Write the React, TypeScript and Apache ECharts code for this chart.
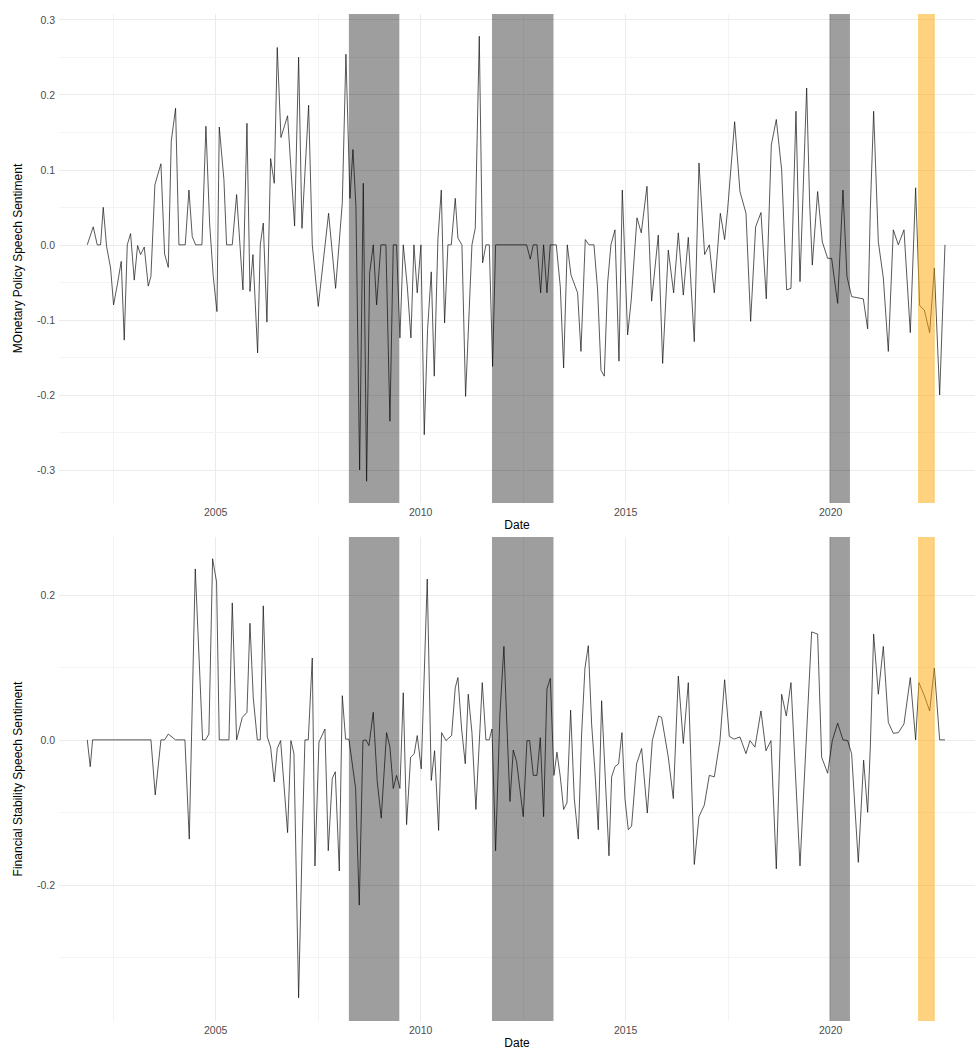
import React, { useEffect, useRef } from "react";
import * as echarts from "echarts";

// Monetary policy speech sentiment (decimal year, value)
const mpDates = [
  2001.869, 2002.015, 2002.113, 2002.194, 2002.259, 2002.34, 2002.438, 2002.511, 2002.609, 2002.698,
  2002.771, 2002.845, 2002.926, 2003.015, 2003.097, 2003.17, 2003.259, 2003.357, 2003.422, 2003.519,
  2003.666, 2003.755, 2003.845, 2003.918, 2004.023, 2004.105, 2004.259, 2004.349, 2004.43, 2004.511,
  2004.666, 2004.763, 2004.853, 2004.942, 2005.032, 2005.089, 2005.202, 2005.267, 2005.406, 2005.512,
  2005.666, 2005.764, 2005.837, 2005.91, 2006.024, 2006.089, 2006.162, 2006.251, 2006.341, 2006.43,
  2006.503, 2006.593, 2006.755, 2006.926, 2007.024, 2007.105, 2007.268, 2007.357, 2007.503, 2007.755,
  2007.926, 2008.089, 2008.178, 2008.276, 2008.349, 2008.422, 2008.512, 2008.601, 2008.682, 2008.755,
  2008.845, 2008.926, 2009.031, 2009.153, 2009.251, 2009.332, 2009.413, 2009.495, 2009.576, 2009.674,
  2009.763, 2009.836, 2009.917, 2010.007, 2010.088, 2010.169, 2010.259, 2010.332, 2010.421, 2010.503,
  2010.584, 2010.665, 2010.747, 2010.844, 2010.909, 2011.007, 2011.096, 2011.251, 2011.332, 2011.43,
  2011.511, 2011.592, 2011.674, 2011.755, 2011.828, 2012.585, 2012.674, 2012.747, 2012.837, 2012.926,
  2012.999, 2013.08, 2013.162, 2013.308, 2013.406, 2013.487, 2013.576, 2013.666, 2013.828, 2013.91,
  2014.015, 2014.105, 2014.227, 2014.316, 2014.398, 2014.479, 2014.56, 2014.641, 2014.739, 2014.837,
  2014.918, 2015.048, 2015.137, 2015.276, 2015.381, 2015.52, 2015.633, 2015.796, 2015.902, 2016.04,
  2016.17, 2016.284, 2016.406, 2016.528, 2016.674, 2016.788, 2016.926, 2017.04, 2017.162, 2017.309,
  2017.414, 2017.487, 2017.658, 2017.788, 2017.935, 2018.048, 2018.17, 2018.3, 2018.43, 2018.552,
  2018.674, 2018.804, 2018.926, 2019.032, 2019.154, 2019.252, 2019.414, 2019.487, 2019.552, 2019.682,
  2019.796, 2019.926, 2020.023, 2020.17, 2020.3, 2020.397, 2020.511, 2020.796, 2020.902, 2020.967,
  2021.048, 2021.162, 2021.284, 2021.406, 2021.528, 2021.65, 2021.788, 2021.942, 2022.072, 2022.17,
  2022.284, 2022.414, 2022.528, 2022.658, 2022.788,
];
const mpValues = [
  0, 0.024, 0, 0, 0.05, -0.002, -0.031, -0.08, -0.051, -0.022,
  -0.127, 0, 0.015, -0.047, -0.001, -0.013, -0.003, -0.055, -0.042, 0.08,
  0.108, -0.012, -0.03, 0.138, 0.182, 0, 0, 0.073, 0.011, 0,
  0, 0.158, 0.029, -0.042, -0.089, 0.157, 0.087, 0, 0, 0.067,
  -0.06, 0.162, -0.062, -0.013, -0.144, 0, 0.029, -0.103, 0.115, 0.082,
  0.263, 0.143, 0.172, 0.025, 0.25, 0.022, 0.186, 0, -0.082, 0.042,
  -0.058, 0.056, 0.254, 0.062, 0.127, 0.051, -0.3, 0.082, -0.315, -0.038,
  0, -0.08, 0, 0, -0.235, 0, 0, -0.124, 0, -0.055,
  -0.124, 0, -0.064, 0, -0.253, -0.113, -0.036, -0.175, 0.007, 0.073,
  -0.104, 0, 0, 0.062, 0.009, 0, -0.202, 0, 0.022, 0.278,
  -0.024, 0, 0, -0.162, 0, 0, -0.019, 0, 0, -0.064,
  0, -0.064, 0, 0, -0.056, -0.164, 0, -0.04, -0.064, -0.142,
  0.007, 0, 0, -0.06, -0.167, -0.175, -0.051, 0, 0.02, -0.155,
  0.073, -0.12, -0.073, 0.036, 0.016, 0.078, -0.075, 0.013, -0.158, -0.007,
  -0.064, 0.016, -0.067, 0.01, -0.129, 0.109, -0.013, 0, -0.064, 0.042,
  0.007, 0.047, 0.164, 0.071, 0.042, -0.102, 0.024, 0.043, -0.072, 0.133,
  0.167, 0.1, -0.06, -0.058, 0.178, -0.049, 0.209, 0.056, -0.027, 0.071,
  0.004, -0.018, -0.018, -0.078, 0.073, -0.042, -0.069, -0.072, -0.112, 0.047,
  0.178, 0.004, -0.044, -0.142, 0.02, 0, 0.02, -0.117, 0.076, -0.081,
  -0.087, -0.117, -0.031, -0.2, 0,
];

// Financial stability speech sentiment (decimal year, value)
const fsDates = [
  2001.869, 2001.942, 2001.999, 2003.422, 2003.527, 2003.666, 2003.755, 2003.845, 2004.023, 2004.251,
  2004.357, 2004.503, 2004.682, 2004.755, 2004.836, 2004.926, 2005.023, 2005.089, 2005.325, 2005.406,
  2005.512, 2005.65, 2005.764, 2005.837, 2005.918, 2006.016, 2006.089, 2006.162, 2006.26, 2006.341,
  2006.43, 2006.503, 2006.585, 2006.755, 2006.836, 2006.91, 2007.024, 2007.114, 2007.178, 2007.26,
  2007.357, 2007.422, 2007.52, 2007.666, 2007.747, 2007.845, 2007.918, 2008.016, 2008.089, 2008.17,
  2008.251, 2008.414, 2008.503, 2008.593, 2008.666, 2008.739, 2008.844, 2008.942, 2009.039, 2009.169,
  2009.251, 2009.332, 2009.413, 2009.495, 2009.576, 2009.657, 2009.755, 2009.844, 2009.917, 2010.015,
  2010.161, 2010.259, 2010.34, 2010.438, 2010.511, 2010.617, 2010.755, 2010.844, 2010.909, 2010.999,
  2011.088, 2011.161, 2011.251, 2011.348, 2011.503, 2011.592, 2011.674, 2011.739, 2011.828, 2011.934,
  2012.031, 2012.096, 2012.178, 2012.259, 2012.34, 2012.503, 2012.593, 2012.658, 2012.747, 2012.837,
  2012.918, 2012.999, 2013.08, 2013.162, 2013.251, 2013.324, 2013.406, 2013.487, 2013.568, 2013.658,
  2013.747, 2013.845, 2013.926, 2014.007, 2014.089, 2014.17, 2014.251, 2014.333, 2014.414, 2014.593,
  2014.658, 2014.739, 2014.828, 2014.91, 2014.983, 2015.064, 2015.145, 2015.267, 2015.39, 2015.528,
  2015.65, 2015.804, 2015.877, 2016.04, 2016.162, 2016.284, 2016.406, 2016.528, 2016.674, 2016.788,
  2016.918, 2017.04, 2017.162, 2017.3, 2017.414, 2017.528, 2017.642, 2017.788, 2017.934, 2018.032,
  2018.154, 2018.3, 2018.422, 2018.544, 2018.674, 2018.804, 2018.918, 2019.032, 2019.252, 2019.536,
  2019.682, 2019.78, 2019.926, 2020.04, 2020.17, 2020.3, 2020.414, 2020.511, 2020.674, 2020.804,
  2020.902, 2020.967, 2021.048, 2021.162, 2021.284, 2021.406, 2021.528, 2021.65, 2021.788, 2021.942,
  2022.072, 2022.153, 2022.284, 2022.414, 2022.528, 2022.658, 2022.788,
];
const fsValues = [
  0, -0.037, 0, 0, -0.076, 0, 0, 0.008, 0, 0,
  -0.137, 0.236, 0, 0, 0.008, 0.25, 0.218, 0, 0, 0.189,
  0, 0.031, 0.038, 0.161, 0.058, 0, 0, 0.185, 0.004, -0.01,
  -0.058, -0.012, -0.001, -0.128, -0.001, -0.019, -0.356, -0.135, 0, 0,
  0.113, -0.174, -0.003, 0.015, -0.153, -0.053, -0.044, -0.181, 0.061, 0.001,
  0.001, -0.067, -0.228, -0.001, 0, -0.008, 0.038, -0.058, -0.108, 0.01,
  -0.01, -0.067, -0.049, -0.067, 0.065, -0.117, -0.024, -0.019, 0.006, -0.04,
  0.222, -0.056, -0.015, -0.125, 0.01, -0.001, 0.006, 0.072, 0.086, 0.015,
  -0.033, 0.063, 0.01, -0.096, 0.079, 0, 0, 0.015, -0.153, 0.036,
  0.129, 0.031, -0.085, -0.014, -0.03, -0.106, -0.001, -0.001, -0.049, -0.049,
  0.003, -0.106, 0.07, 0.085, -0.049, -0.017, -0.051, -0.096, -0.087, 0.041,
  -0.081, -0.137, 0.008, 0.099, 0.13, 0.022, -0.044, -0.124, 0.054, -0.16,
  -0.051, -0.037, -0.033, 0.01, -0.081, -0.124, -0.119, -0.033, -0.012, -0.101,
  -0.001, 0.033, 0.031, -0.024, -0.081, 0.088, -0.005, 0.079, -0.172, -0.106,
  -0.09, -0.049, -0.051, -0.001, 0.083, 0.005, 0.001, 0.004, -0.019, -0.001,
  -0.01, 0.04, -0.015, -0.001, -0.178, 0.063, 0.033, 0.079, -0.174, 0.149,
  0.146, -0.024, -0.046, -0.001, 0.023, 0, -0.001, -0.019, -0.169, -0.028,
  -0.1, -0.01, 0.146, 0.063, 0.129, 0.024, 0.009, 0.01, 0.022, 0.086,
  0, 0.079, 0.061, 0.04, 0.099, 0, 0,
];

// Shaded periods (decimal years)
const greyPeriods = [
  [2008.25, 2009.48],
  [2011.74, 2013.24],
  [2019.97, 2020.47],
];
const orangePeriods = [[2022.13, 2022.54]];

const xTickLabels = [2005, 2010, 2015, 2020];
const xGridLines = [2002.5, 2005, 2007.5, 2010, 2012.5, 2015, 2017.5, 2020, 2022.5];
const mpTicks = [-0.3, -0.2, -0.1, 0, 0.1, 0.2, 0.3];
const mpMinor = [-0.25, -0.15, -0.05, 0.05, 0.15, 0.25];
const fsTicks = [-0.2, 0, 0.2];
const fsMinor = [-0.3, -0.1, 0.1];

const X_MIN = 2001.18;
const X_MAX = 2023.52;

const FONT = "Liberation Sans, Arial, sans-serif";

function zip(xs: number[], ys: number[]) {
  return xs.map((x, i) => [x, ys[i]]);
}

export default function App() {
  const ref = useRef<HTMLDivElement>(null);

  useEffect(() => {
    document.body.style.margin = "0";
    if (!ref.current) return;
    const chart = echarts.init(ref.current, null, { renderer: "svg" });

    const majorStyle = { color: "#ebebeb", width: 1, type: "solid" as const };
    const minorStyle = { color: "#f4f4f4", width: 1, type: "solid" as const };

    const gridLineSeries = (idx: number, data: number[][], major: number[], minor: number[]) => ({
      type: "line",
      xAxisIndex: idx,
      yAxisIndex: idx,
      data,
      silent: true,
      showSymbol: false,
      lineStyle: { opacity: 0 },
      z: 1,
      markLine: {
        silent: true,
        symbol: "none",
        z: 0,
        animation: false,
        label: { show: false },
        data: [
          ...xGridLines.map((v) => ({ xAxis: v, lineStyle: Math.abs(v % 5) < 1e-9 ? majorStyle : minorStyle })),
          ...major.map((v) => ({ yAxis: v, lineStyle: majorStyle })),
          ...minor.map((v) => ({ yAxis: v, lineStyle: minorStyle })),
        ],
      },
    });

    const shadeSeries = (idx: number, data: number[][]) => ({
      type: "line",
      xAxisIndex: idx,
      yAxisIndex: idx,
      data,
      silent: true,
      showSymbol: false,
      lineStyle: { opacity: 0 },
      z: 3,
      markArea: {
        silent: true,
        z: 3,
        animation: false,
        data: [
          ...greyPeriods.map((p) => [
            { xAxis: p[0], itemStyle: { color: "rgba(0,0,0,0.38)" } },
            { xAxis: p[1] },
          ]),
          ...orangePeriods.map((p) => [
            { xAxis: p[0], itemStyle: { color: "rgba(255,165,0,0.5)" } },
            { xAxis: p[1] },
          ]),
        ],
      },
    });

    const lineSeries = (idx: number, data: number[][]) => ({
      type: "line",
      xAxisIndex: idx,
      yAxisIndex: idx,
      data,
      showSymbol: false,
      symbol: "none",
      silent: true,
      z: 2,
      lineStyle: { color: "#111", width: 0.7 },
    });

    const xAxis = (idx: number) => ({
      type: "value",
      gridIndex: idx,
      min: X_MIN,
      max: X_MAX,
      axisLine: { show: false },
      axisTick: { show: false },
      splitLine: { show: false },
      axisLabel: {
        customValues: xTickLabels,
        color: "#4d4d4d",
        fontSize: 10.5,
        fontFamily: FONT,
        margin: 3,
        formatter: (v: number) => String(Math.round(v)),
      },
      name: "Date",
      nameLocation: "middle",
      nameGap: 16,
      nameTextStyle: { color: "#000", fontSize: 12, fontFamily: FONT },
    });

    const yAxis = (idx: number, min: number, max: number, ticks: number[], name: string) => ({
      type: "value",
      gridIndex: idx,
      min,
      max,
      axisLine: { show: false },
      axisTick: { show: false },
      splitLine: { show: false },
      axisLabel: {
        customValues: ticks,
        color: "#4d4d4d",
        fontSize: 10.5,
        fontFamily: FONT,
        margin: 4,
        formatter: (v: number) => v.toFixed(1),
      },
      name,
      nameLocation: "middle",
      nameGap: 35,
      nameTextStyle: { color: "#000", fontSize: 12, fontFamily: FONT },
    });

    const mpData = zip(mpDates, mpValues);
    const fsData = zip(fsDates, fsValues);

    chart.setOption({
      animation: false,
      backgroundColor: "#ffffff",
      grid: [
        { left: 59, right: 1, top: 14, height: 489 },
        { left: 59, right: 1, top: 537, height: 490 },
      ],
      xAxis: [xAxis(0), xAxis(1)],
      yAxis: [
        yAxis(0, -0.344, 0.3076, mpTicks, "MOnetary Policy Speech Sentiment"),
        yAxis(1, -0.388, 0.28, fsTicks, "Financial Stability Speech Sentiment"),
      ],
      series: [
        gridLineSeries(0, mpData, mpTicks, mpMinor),
        gridLineSeries(1, fsData, fsTicks, fsMinor),
        lineSeries(0, mpData),
        lineSeries(1, fsData),
        shadeSeries(0, mpData),
        shadeSeries(1, fsData),
      ],
    });

    return () => chart.dispose();
  }, []);

  return <div ref={ref} style={{ width: 976, height: 1050, background: "#fff" }} />;
}
